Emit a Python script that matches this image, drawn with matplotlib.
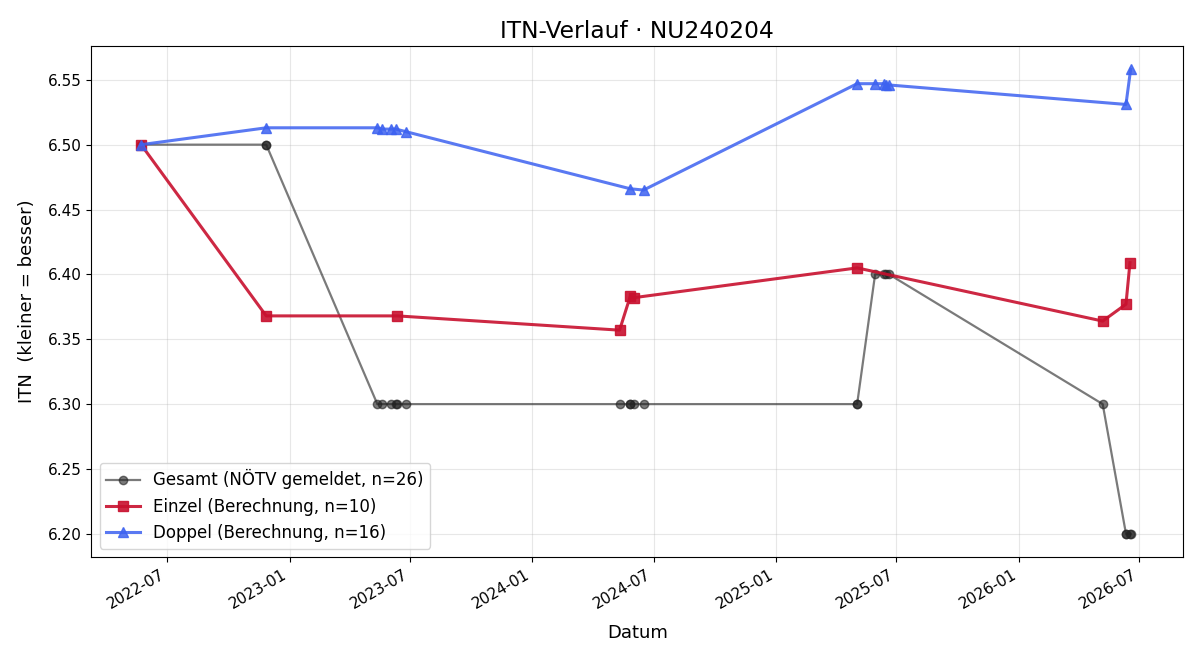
import pandas as pd
import matplotlib
matplotlib.use("Agg")
import matplotlib.pyplot as plt
import matplotlib.dates as mdates
from matplotlib.ticker import FormatStrFormatter

# Einzel (singles) computed ITN
einzel_dates = ["2022-05-23", "2022-11-27", "2023-06-12", "2024-05-11", "2024-05-27",
                "2024-06-01", "2025-05-03", "2026-05-07", "2026-06-11", "2026-06-17"]
einzel_itn = [6.500, 6.368, 6.368, 6.357, 6.383, 6.382, 6.405, 6.364, 6.377, 6.409]

# Doppel (doubles) computed ITN
doppel_dates = ["2022-05-23", "2022-11-27", "2023-05-13", "2023-05-20", "2023-06-03",
                "2023-06-10", "2023-06-25", "2024-05-27", "2024-06-16", "2025-05-03",
                "2025-05-30", "2025-06-12", "2025-06-16", "2025-06-20", "2026-06-11",
                "2026-06-18"]
doppel_itn = [6.500, 6.513, 6.513, 6.512, 6.512, 6.512, 6.510, 6.466, 6.465, 6.547,
              6.547, 6.547, 6.546, 6.546, 6.531, 6.558]

# Gesamt (reported by NÖTV), one entry per match
gesamt_dates = ["2022-05-23", "2022-05-23", "2022-11-27", "2022-11-27",
                "2023-05-13", "2023-05-20", "2023-06-03", "2023-06-10", "2023-06-12", "2023-06-25",
                "2024-05-11", "2024-05-27", "2024-05-27", "2024-06-01", "2024-06-16",
                "2025-05-03", "2025-05-03", "2025-05-30", "2025-06-12", "2025-06-16", "2025-06-20",
                "2026-05-07", "2026-06-11", "2026-06-11", "2026-06-17", "2026-06-18"]
gesamt_itn = [6.50, 6.50, 6.50, 6.50,
              6.30, 6.30, 6.30, 6.30, 6.30, 6.30,
              6.30, 6.30, 6.30, 6.30, 6.30,
              6.30, 6.30, 6.40, 6.40, 6.40, 6.40,
              6.30, 6.20, 6.20, 6.20, 6.20]

fig, ax = plt.subplots(figsize=(12, 6.6), dpi=100)

ax.plot(pd.to_datetime(gesamt_dates), gesamt_itn, marker="o", markersize=6,
        linewidth=1.6, color="#222222", alpha=0.6,
        label=f"Gesamt (NÖTV gemeldet, n={len(gesamt_itn)})")
ax.plot(pd.to_datetime(einzel_dates), einzel_itn, marker="s", markersize=7.5,
        linewidth=2.2, color="#c8102e", alpha=0.9,
        label=f"Einzel (Berechnung, n={len(einzel_itn)})")
ax.plot(pd.to_datetime(doppel_dates), doppel_itn, marker="^", markersize=7.5,
        linewidth=2.2, color="#3d62f0", alpha=0.85,
        label=f"Doppel (Berechnung, n={len(doppel_itn)})")

ax.set_xlim(pd.Timestamp("2022-03-09"), pd.Timestamp("2026-09-05"))
ax.set_title("ITN-Verlauf · NU240204", fontsize=16.8)
ax.set_xlabel("Datum", fontsize=13, labelpad=9)
ax.set_ylabel("ITN  (kleiner = besser)", fontsize=13, labelpad=8)
ax.yaxis.set_major_formatter(FormatStrFormatter("%.2f"))
ax.xaxis.set_major_locator(mdates.MonthLocator(bymonth=[1, 7]))
ax.xaxis.set_major_formatter(mdates.DateFormatter("%Y-%m"))
ax.tick_params(labelsize=11)
ax.grid(True, alpha=0.3)
ax.legend(loc="lower left", fontsize=12)
fig.autofmt_xdate()
fig.subplots_adjust(left=0.076, right=0.986, top=0.93, bottom=0.156)
fig.savefig("out.png")
